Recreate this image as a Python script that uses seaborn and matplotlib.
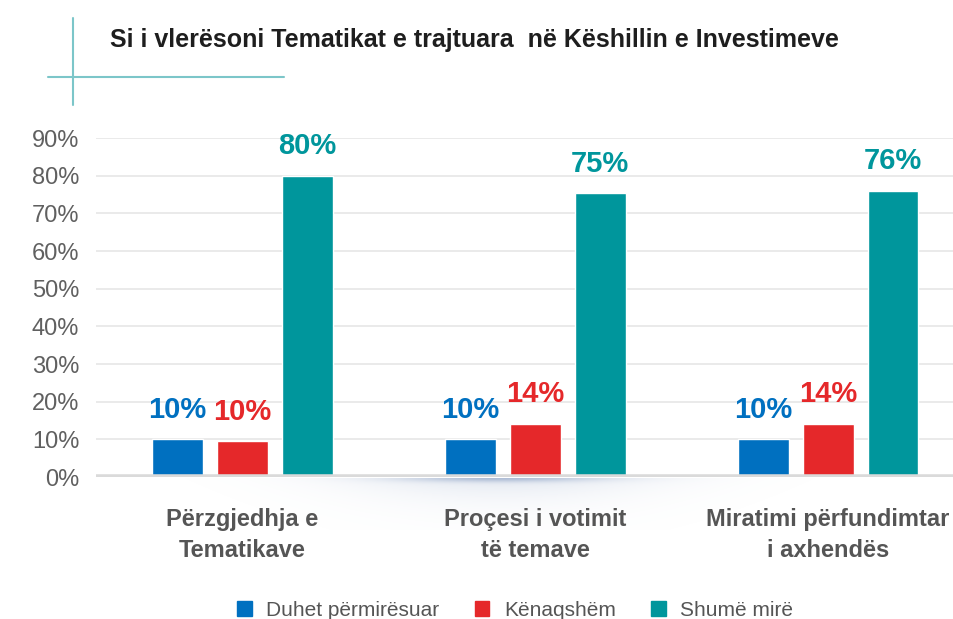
import pandas as pd
import numpy as np
import seaborn as sns
import matplotlib.pyplot as plt
from matplotlib.lines import Line2D

# data (percent)
categories = ["Përzgjedhja e\nTematikave", "Proçesi i votimit\ntë temave", "Miratimi përfundimtar\ni axhendës"]
series = ["Duhet përmirësuar", "Kënaqshëm", "Shumë mirë"]
duhet = [10, 10, 10]
kenaqshem = [9.6, 14.2, 14.2]
shume_mire = [80, 75.3, 76]
value_labels = [["10%", "10%", "10%"], ["10%", "14%", "14%"], ["80%", "75%", "76%"]]
yticks = [0, 10, 20, 30, 40, 50, 60, 70, 80, 90]

colors = ["#0070c0", "#e5282a", "#00969c"]

df = pd.DataFrame({
    "cat": categories * 3,
    "series": [s for s in series for _ in categories],
    "value": duhet + kenaqshem + shume_mire,
})

sns.set_theme(style="white")
plt.rcParams["font.family"] = ["Liberation Sans Narrow", "Liberation Sans", "DejaVu Sans"]

fig = plt.figure(figsize=(9.54, 6.19), dpi=100)

# soft shadow under the baseline (decoration only)
sh = fig.add_axes([150 / 954, 1 - 530 / 619, 700 / 954, 52 / 619], zorder=0)
gx = np.linspace(-1, 1, 400)
gy = np.linspace(0, 1, 60)
X, Y = np.meshgrid(gx, gy)
glow = np.exp(-(X / 0.45) ** 2) * np.exp(-Y / 0.35) * 0.22
streak = np.exp(-(X / 0.28) ** 2) * np.exp(-(Y / 0.07) ** 2) * 0.35
rgba = np.zeros((60, 400, 4))
rgba[..., 0] = 0.45
rgba[..., 1] = 0.55
rgba[..., 2] = 0.72
rgba[..., 3] = np.clip(glow + streak, 0, 1)
sh.imshow(rgba, aspect="auto", interpolation="bilinear")
sh.axis("off")

ax = fig.add_axes([0.1006, 0.2294, 0.8994, 0.5476], zorder=1)
ax.patch.set_alpha(0)

sns.barplot(data=df, x="cat", y="value", hue="series", palette=colors,
            width=0.665, gap=0.215, saturation=1, legend=False, ax=ax)

ax.set_xlim(-0.5, 2.43)
ax.set_ylim(0, 90)
ax.set_yticks(yticks)
ax.set_yticklabels([f"{t}%" for t in yticks], fontsize=17, color="#606060")
ax.grid(axis="y", color="#e6e6e6", linewidth=1.2)
ax.set_axisbelow(True)
for s in ax.spines.values():
    s.set_visible(False)
ax.axhline(0, color="#dadada", linewidth=4, zorder=3)
ax.tick_params(axis="y", length=0, pad=12)
ax.tick_params(axis="x", length=0, pad=22)
ax.set_xticks(range(len(categories)))
ax.set_xticklabels(categories, fontsize=17, fontweight="bold", color="#555555", linespacing=1.45)
ax.set_xlabel("")
ax.set_ylabel("")

# value labels above bars
for i, cont in enumerate(ax.containers):
    ax.bar_label(cont, labels=value_labels[i], padding=11, fontsize=21, fontweight="bold",
                 color=colors[i], clip_on=False)

# decorative lines near the title
fig.add_artist(Line2D([73 / 954, 73 / 954], [1 - 18 / 619, 1 - 105 / 619], color="#7cc6c9", lw=1.5))
fig.add_artist(Line2D([48 / 954, 284 / 954], [1 - 77 / 619, 1 - 77 / 619], color="#7cc6c9", lw=1.5))

fig.text(110 / 954, 1 - 40 / 619, "Si i vlerësoni Tematikat e trajtuara  në Këshillin e Investimeve",
         fontsize=18, fontweight="bold", color="#1e1e1e", va="center", ha="left")

handles = [plt.Rectangle((0, 0), 1, 1, color=c) for c in colors]
fig.legend(handles, series, loc="center", bbox_to_anchor=(0.54, 1 - 610 / 619), ncol=3,
           frameon=False, fontsize=15, handlelength=0.7, handleheight=0.7, columnspacing=1.7,
           handletextpad=0.7, labelcolor="#555555")

fig.savefig("out.png", dpi=100)
